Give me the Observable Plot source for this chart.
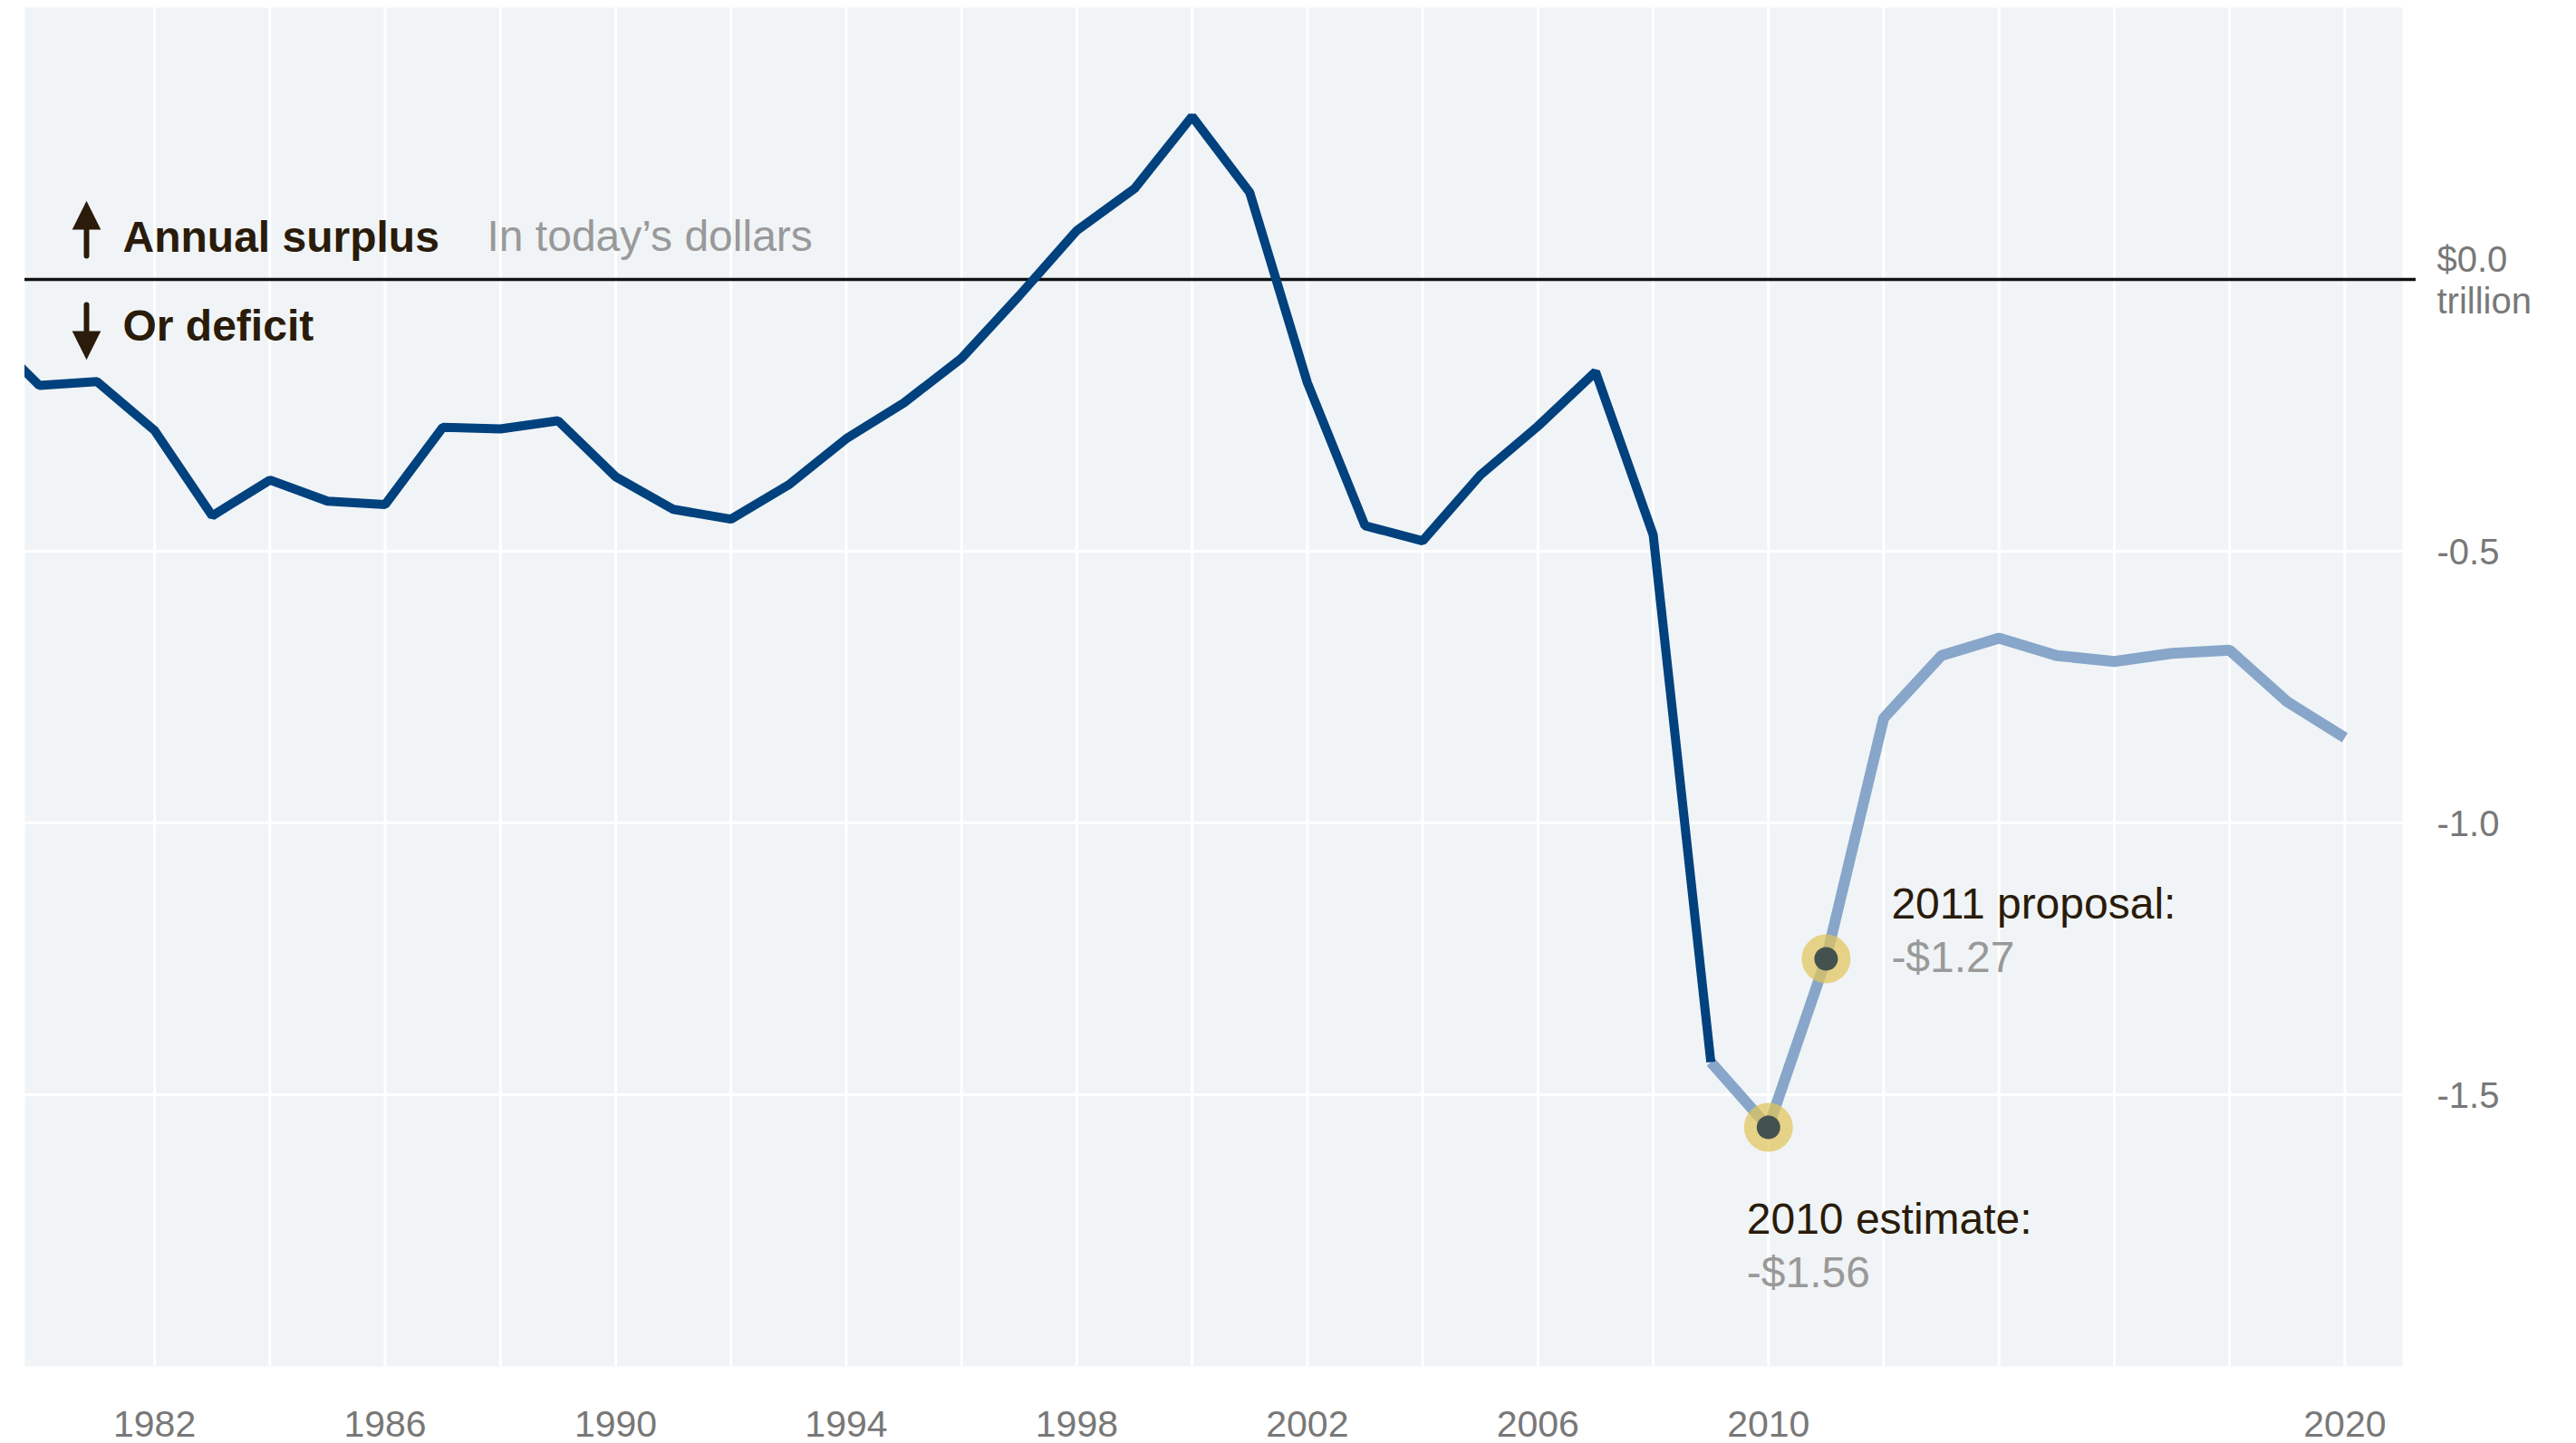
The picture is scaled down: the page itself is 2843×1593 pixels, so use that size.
<!DOCTYPE html>
<html>
<head>
<meta charset="utf-8">
<script src="https://cdn.jsdelivr.net/npm/d3@7"></script>
<script src="https://cdn.jsdelivr.net/npm/@observablehq/plot@0.6"></script>
<style>
  body { margin: 0; background: #ffffff; }
  #chart svg { display: block; }
</style>
</head>
<body>
<div id="chart"></div>
<script>
// ---- Data (trillions of dollars, in today's dollars) ----
const historyYears = [1979, 1980, 1981, 1982, 1983, 1984, 1985, 1986, 1987, 1988, 1989, 1990, 1991, 1992, 1993, 1994, 1995, 1996, 1997, 1998, 1999, 2000, 2001, 2002, 2003, 2004, 2005, 2006, 2007, 2008, 2009];
const historyValues = [-0.09, -0.195, -0.188, -0.278, -0.435, -0.369, -0.408, -0.414, -0.272, -0.275, -0.26, -0.363, -0.423, -0.441, -0.378, -0.293, -0.227, -0.145, -0.03, 0.09, 0.167, 0.30, 0.16, -0.19, -0.453, -0.481, -0.36, -0.27, -0.17, -0.47, -1.44];
const projectionYears = [2009, 2010, 2011, 2012, 2013, 2014, 2015, 2016, 2017, 2018, 2019, 2020];
const projectionValues = [-1.44, -1.56, -1.25, -0.807, -0.692, -0.66, -0.692, -0.703, -0.688, -0.682, -0.777, -0.843];

const highlightYears = [2010, 2011];
const highlightValues = [-1.56, -1.25];
const highlightTitles = ["2010 estimate:", "2011 proposal:"];
const highlightAmounts = ["-$1.56", "-$1.27"];

const gridYears = [1982, 1984, 1986, 1988, 1990, 1992, 1994, 1996, 1998, 2000, 2002, 2004, 2006, 2008, 2010, 2012, 2014, 2016, 2018, 2020];
const xTickYears = [1982, 1986, 1990, 1994, 1998, 2002, 2006, 2010, 2020];
const yTickValues = [0, -0.5, -1, -1.5];
const yGridValues = [-0.5, -1, -1.5];

const headerLabels = ["Annual surplus", "In today\u2019s dollars", "Or deficit"];

// ---- Tables built from the arrays ----
const history = historyYears.map((year, i) => ({year, value: historyValues[i]}));
const projection = projectionYears.map((year, i) => ({year, value: projectionValues[i]}));
const highlights = highlightYears.map((year, i) => ({year, value: highlightValues[i], title: highlightTitles[i], amount: highlightAmounts[i]}));

const darkText = "#2a1b0a";
const grayText = "#999999";
const axisGray = "#787878";

// custom vector shape: shaft plus filled triangular head, drawn from 0 to -l
const arrowShape = {
  draw(context, l) {
    const head = 22, half = 11;
    context.moveTo(0, 0);
    context.lineTo(0, -l + head - 2);
    context.moveTo(-half, -l + head);
    context.lineTo(0, -l);
    context.lineTo(half, -l + head);
    context.closePath();
  }
};

const chart = Plot.plot({
  width: 2843,
  height: 1593,
  marginLeft: 27,
  marginRight: 192,
  marginTop: 8,
  marginBottom: 85,
  style: {fontFamily: "'Liberation Sans', Arial, Helvetica, sans-serif", background: "#ffffff", overflow: "visible"},
  x: {domain: [1979.75, 2021], axis: null},
  y: {domain: [-2, 0.5], axis: null},
  marks: [
    Plot.frame({fill: "#f0f4f6", stroke: "none"}),
    Plot.ruleX(gridYears, {stroke: "#ffffff", strokeWidth: 3}),
    Plot.ruleY(yGridValues, {stroke: "#ffffff", strokeWidth: 3}),
    Plot.axisX({ticks: xTickYears, label: null, tickSize: 0, tickPadding: 48, fontSize: 41, color: axisGray, tickFormat: d => String(d)}),
    Plot.axisY({anchor: "right", label: null, ticks: yTickValues, tickSize: 0, tickPadding: 38, fontSize: 40, lineHeight: 1.15, color: axisGray,
      tickFormat: d => d === 0 ? "$0.0\ntrillion" : d.toFixed(1)}),
    Plot.ruleY([0], {stroke: "#111111", strokeWidth: 3.5, insetRight: -15}),
    Plot.line(projection, {x: "year", y: "value", stroke: "#87a6c9", strokeWidth: 12, strokeLinejoin: "miter", strokeLinecap: "butt"}),
    Plot.line(history, {x: "year", y: "value", stroke: "#00417e", strokeWidth: 10, strokeLinejoin: "miter", strokeLinecap: "butt", clip: true}),
    Plot.dot(highlights, {x: "year", y: "value", r: 27, fill: "#e2c55a", fillOpacity: 0.72, stroke: "none"}),
    Plot.dot(highlights, {x: "year", y: "value", r: 13, fill: "#44524f", stroke: "none"}),
    // annotations for highlighted points
    Plot.text(highlights.slice(1), {x: "year", y: "value", text: "title", dx: 72, dy: -45, textAnchor: "start", lineAnchor: "bottom", fontSize: 48, fill: darkText}),
    Plot.text(highlights.slice(1), {x: "year", y: "value", text: "amount", dx: 72, dy: 14, textAnchor: "start", lineAnchor: "bottom", fontSize: 48, fill: grayText}),
    Plot.text(highlights.slice(0, 1), {x: "year", y: "value", text: "title", dx: -24, dy: 117, textAnchor: "start", lineAnchor: "bottom", fontSize: 48, fill: darkText}),
    Plot.text(highlights.slice(0, 1), {x: "year", y: "value", text: "amount", dx: -24, dy: 176, textAnchor: "start", lineAnchor: "bottom", fontSize: 48, fill: grayText}),
    // header labels
    Plot.text([headerLabels[0]], {frameAnchor: "top-left", text: d => d, dx: 108, dy: 269, textAnchor: "start", lineAnchor: "bottom", fontSize: 48, fontWeight: "bold", fill: darkText}),
    Plot.text([headerLabels[1]], {frameAnchor: "top-left", text: d => d, dx: 510, dy: 268, textAnchor: "start", lineAnchor: "bottom", fontSize: 48, fill: grayText}),
    Plot.text([headerLabels[2]], {frameAnchor: "top-left", text: d => d, dx: 108, dy: 367, textAnchor: "start", lineAnchor: "bottom", fontSize: 48, fontWeight: "bold", fill: darkText}),
    Plot.vector([0], {frameAnchor: "top-left", anchor: "middle", dx: 68, dy: 247, length: 54, rotate: 0, shape: arrowShape, stroke: darkText, fill: darkText, strokeWidth: 6, strokeLinejoin: "miter"}),
    Plot.vector([0], {frameAnchor: "top-left", anchor: "middle", dx: 68, dy: 355, length: 54, rotate: 180, shape: arrowShape, stroke: darkText, fill: darkText, strokeWidth: 6, strokeLinejoin: "miter"})
  ]
});

document.getElementById("chart").appendChild(chart);
</script>
</body>
</html>
